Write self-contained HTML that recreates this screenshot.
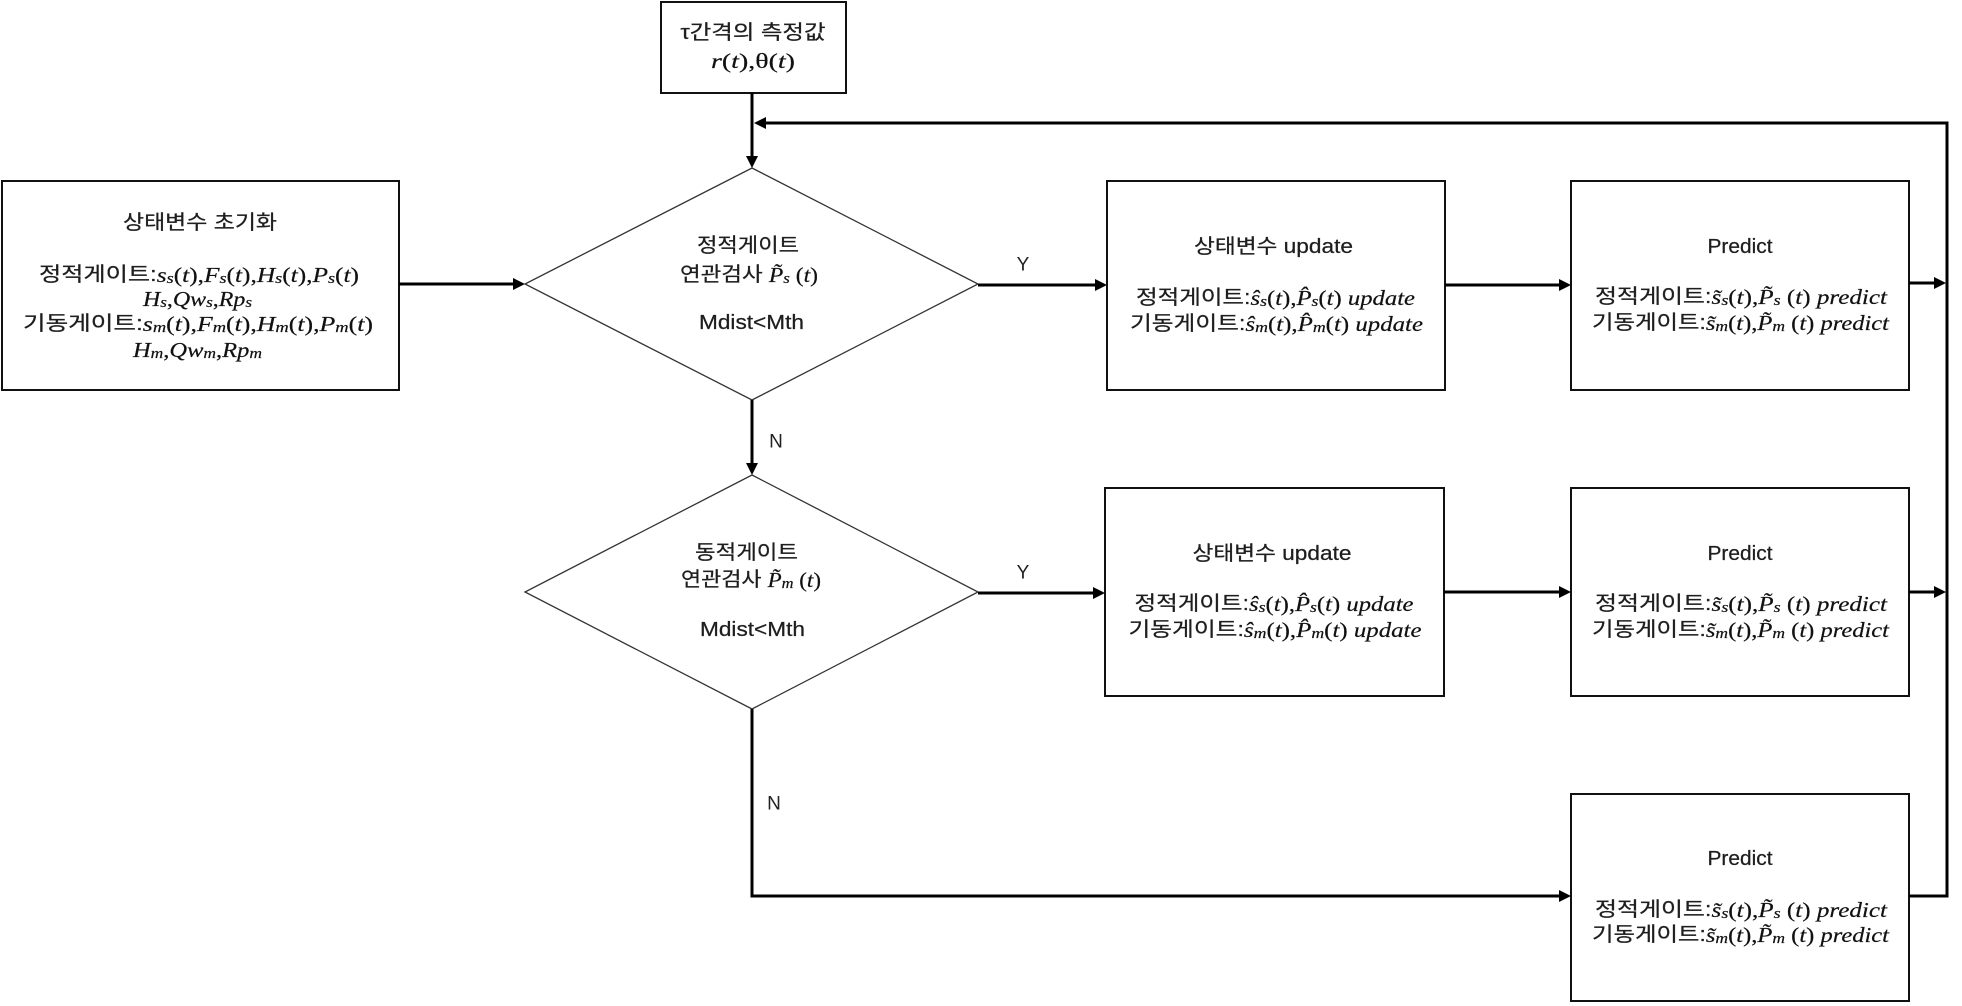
<!DOCTYPE html>
<html><head><meta charset="utf-8"><style>
html,body{margin:0;padding:0;background:#fff;}
svg{display:block;}
.k{font-family:"Liberation Sans","Noto Sans CJK KR",sans-serif;font-size:20px;fill:#1e1e1e;stroke:#1e1e1e;stroke-width:0.25px;}
.m{font-family:"Liberation Serif","DejaVu Serif",serif;font-style:italic;fill:#111;stroke:#111;stroke-width:0.2px;font-size:21px;}
.r{font-family:"Liberation Serif","DejaVu Serif",serif;font-style:normal;fill:#111;stroke:#111;stroke-width:0.2px;font-size:21px;}
.sb{font-size:15px;}
.lbl{font-family:"Liberation Sans",sans-serif;font-size:19px;fill:#222;}
</style></head><body>
<svg width="1962" height="1006" viewBox="0 0 1962 1006" xmlns="http://www.w3.org/2000/svg">
<rect width="1962" height="1006" fill="#fff"/>
<!-- boxes -->
<g fill="none" stroke="#111" stroke-width="2">
<rect x="661" y="2" width="185" height="91"/>
<rect x="2" y="181" width="397" height="209"/>
<rect x="1107" y="181" width="338" height="209"/>
<rect x="1571" y="181" width="338" height="209"/>
<rect x="1105" y="488" width="339" height="208"/>
<rect x="1571" y="488" width="338" height="208"/>
<rect x="1571" y="794" width="338" height="207"/>
</g>
<!-- diamonds -->
<g fill="none" stroke="#333" stroke-width="1.3">
<polygon points="752,168 978,284 752,400 525,284"/>
<polygon points="752,475 978,592 752,709 525,592"/>
</g>
<!-- connectors -->
<g fill="none" stroke="#000" stroke-width="3">
<path d="M752,93 V160"/>
<path d="M1947,123 H762"/>
<path d="M1947,121.5 V897.5"/>
<path d="M399,284 H516"/>
<path d="M978,285 H1098"/>
<path d="M1445,285 H1562"/>
<path d="M1909,283 H1937"/>
<path d="M752,400 V466"/>
<path d="M978,593 H1096"/>
<path d="M1444,592 H1562"/>
<path d="M1909,592 H1937"/>
<path d="M752,709 V896 H1562"/>
<path d="M1909,896 H1947"/>
</g>
<!-- arrowheads -->
<g fill="#000">
<polygon points="746,156 752,168 758,156"/>
<polygon points="766,117 754,123 766,129"/>
<polygon points="513,278 525,284 513,290"/>
<polygon points="1095,279 1107,285 1095,291"/>
<polygon points="1559,279 1571,285 1559,291"/>
<polygon points="1934,277 1946,283 1934,289"/>
<polygon points="746,463 752,475 758,463"/>
<polygon points="1093,587 1105,593 1093,599"/>
<polygon points="1559,586 1571,592 1559,598"/>
<polygon points="1934,586 1946,592 1934,598"/>
<polygon points="1559,890 1571,896 1559,902"/>
</g>
<!-- labels -->
<text class="lbl" x="1023" y="265" text-anchor="middle" dominant-baseline="central">Y</text>
<text class="lbl" x="1023" y="573" text-anchor="middle" dominant-baseline="central">Y</text>
<text class="lbl" x="776" y="442" text-anchor="middle" dominant-baseline="central">N</text>
<text class="lbl" x="774" y="804" text-anchor="middle" dominant-baseline="central">N</text>

<!-- top box -->
<text class="k" x="753" y="33" text-anchor="middle" dominant-baseline="central" textLength="145" lengthAdjust="spacingAndGlyphs">τ간격의 측정값</text>
<text class="k" x="753" y="61" text-anchor="middle" dominant-baseline="central" textLength="84" lengthAdjust="spacingAndGlyphs"><tspan class="m">r</tspan><tspan class="r">(</tspan><tspan class="m">t</tspan><tspan class="r">),θ(</tspan><tspan class="m">t</tspan><tspan class="r">)</tspan></text>

<!-- left box -->
<text class="k" x="200" y="223" text-anchor="middle" dominant-baseline="central" textLength="154" lengthAdjust="spacingAndGlyphs">상태변수 초기화</text>
<text class="k" x="199" y="275" text-anchor="middle" dominant-baseline="central" textLength="320" lengthAdjust="spacingAndGlyphs">정적게이트:<tspan class="m">s</tspan><tspan class="m sb" dy="4">s</tspan><tspan class="r" dy="-4">(</tspan><tspan class="m">t</tspan><tspan class="r">),</tspan><tspan class="m">F</tspan><tspan class="m sb" dy="4">s</tspan><tspan class="r" dy="-4">(</tspan><tspan class="m">t</tspan><tspan class="r">),</tspan><tspan class="m">H</tspan><tspan class="m sb" dy="4">s</tspan><tspan class="r" dy="-4">(</tspan><tspan class="m">t</tspan><tspan class="r">),</tspan><tspan class="m">P</tspan><tspan class="m sb" dy="4">s</tspan><tspan class="r" dy="-4">(</tspan><tspan class="m">t</tspan><tspan class="r">)</tspan></text>
<text class="k" x="197.5" y="299" text-anchor="middle" dominant-baseline="central" textLength="109" lengthAdjust="spacingAndGlyphs"><tspan class="m">H</tspan><tspan class="m sb" dy="4">s</tspan><tspan class="r" dy="-4">,</tspan><tspan class="m">Qw</tspan><tspan class="m sb" dy="4">s</tspan><tspan class="r" dy="-4">,</tspan><tspan class="m">Rp</tspan><tspan class="m sb" dy="4">s</tspan></text>
<text class="k" x="198" y="324" text-anchor="middle" dominant-baseline="central" textLength="350" lengthAdjust="spacingAndGlyphs">기동게이트:<tspan class="m">s</tspan><tspan class="m sb" dy="4">m</tspan><tspan class="r" dy="-4">(</tspan><tspan class="m">t</tspan><tspan class="r">),</tspan><tspan class="m">F</tspan><tspan class="m sb" dy="4">m</tspan><tspan class="r" dy="-4">(</tspan><tspan class="m">t</tspan><tspan class="r">),</tspan><tspan class="m">H</tspan><tspan class="m sb" dy="4">m</tspan><tspan class="r" dy="-4">(</tspan><tspan class="m">t</tspan><tspan class="r">),</tspan><tspan class="m">P</tspan><tspan class="m sb" dy="4">m</tspan><tspan class="r" dy="-4">(</tspan><tspan class="m">t</tspan><tspan class="r">)</tspan></text>
<text class="k" x="197.5" y="350" text-anchor="middle" dominant-baseline="central" textLength="129" lengthAdjust="spacingAndGlyphs"><tspan class="m">H</tspan><tspan class="m sb" dy="4">m</tspan><tspan class="r" dy="-4">,</tspan><tspan class="m">Qw</tspan><tspan class="m sb" dy="4">m</tspan><tspan class="r" dy="-4">,</tspan><tspan class="m">Rp</tspan><tspan class="m sb" dy="4">m</tspan></text>

<!-- diamond 1 -->
<text class="k" x="748" y="246" text-anchor="middle" dominant-baseline="central" textLength="102" lengthAdjust="spacingAndGlyphs">정적게이트</text>
<text class="k" x="749" y="275" text-anchor="middle" dominant-baseline="central" textLength="138" lengthAdjust="spacingAndGlyphs">연관검사 <tspan class="m">P̃</tspan><tspan class="m sb" dy="4">s</tspan><tspan class="r" dy="-4"> (</tspan><tspan class="m">t</tspan><tspan class="r">)</tspan></text>
<text class="k" x="751.5" y="323" text-anchor="middle" dominant-baseline="central" textLength="105" lengthAdjust="spacingAndGlyphs">Mdist&lt;Mth</text>

<!-- diamond 2 -->
<text class="k" x="746.5" y="553" text-anchor="middle" dominant-baseline="central" textLength="103" lengthAdjust="spacingAndGlyphs">동적게이트</text>
<text class="k" x="751" y="580" text-anchor="middle" dominant-baseline="central" textLength="140" lengthAdjust="spacingAndGlyphs">연관검사 <tspan class="m">P̃</tspan><tspan class="m sb" dy="4">m</tspan><tspan class="r" dy="-4"> (</tspan><tspan class="m">t</tspan><tspan class="r">)</tspan></text>
<text class="k" x="752.5" y="630" text-anchor="middle" dominant-baseline="central" textLength="105" lengthAdjust="spacingAndGlyphs">Mdist&lt;Mth</text>

<!-- update box 1 -->
<text class="k" x="1273.5" y="247" text-anchor="middle" dominant-baseline="central" textLength="159" lengthAdjust="spacingAndGlyphs">상태변수 update</text>
<text class="k" x="1275.5" y="298" text-anchor="middle" dominant-baseline="central" textLength="279" lengthAdjust="spacingAndGlyphs">정적게이트:<tspan class="m">ŝ</tspan><tspan class="m sb" dy="4">s</tspan><tspan class="r" dy="-4">(</tspan><tspan class="m">t</tspan><tspan class="r">),</tspan><tspan class="m">P̂</tspan><tspan class="m sb" dy="4">s</tspan><tspan class="r" dy="-4">(</tspan><tspan class="m">t</tspan><tspan class="r">) </tspan><tspan class="m">update</tspan></text>
<text class="k" x="1276.5" y="324" text-anchor="middle" dominant-baseline="central" textLength="293" lengthAdjust="spacingAndGlyphs">기동게이트:<tspan class="m">ŝ</tspan><tspan class="m sb" dy="4">m</tspan><tspan class="r" dy="-4">(</tspan><tspan class="m">t</tspan><tspan class="r">),</tspan><tspan class="m">P̂</tspan><tspan class="m sb" dy="4">m</tspan><tspan class="r" dy="-4">(</tspan><tspan class="m">t</tspan><tspan class="r">) </tspan><tspan class="m">update</tspan></text>

<!-- update box 2 -->
<text class="k" x="1272" y="554" text-anchor="middle" dominant-baseline="central" textLength="159" lengthAdjust="spacingAndGlyphs">상태변수 update</text>
<text class="k" x="1274" y="604" text-anchor="middle" dominant-baseline="central" textLength="279" lengthAdjust="spacingAndGlyphs">정적게이트:<tspan class="m">ŝ</tspan><tspan class="m sb" dy="4">s</tspan><tspan class="r" dy="-4">(</tspan><tspan class="m">t</tspan><tspan class="r">),</tspan><tspan class="m">P̂</tspan><tspan class="m sb" dy="4">s</tspan><tspan class="r" dy="-4">(</tspan><tspan class="m">t</tspan><tspan class="r">) </tspan><tspan class="m">update</tspan></text>
<text class="k" x="1275" y="630" text-anchor="middle" dominant-baseline="central" textLength="293" lengthAdjust="spacingAndGlyphs">기동게이트:<tspan class="m">ŝ</tspan><tspan class="m sb" dy="4">m</tspan><tspan class="r" dy="-4">(</tspan><tspan class="m">t</tspan><tspan class="r">),</tspan><tspan class="m">P̂</tspan><tspan class="m sb" dy="4">m</tspan><tspan class="r" dy="-4">(</tspan><tspan class="m">t</tspan><tspan class="r">) </tspan><tspan class="m">update</tspan></text>

<!-- predict boxes -->
<g>
<text class="k" x="1740" y="247" text-anchor="middle" dominant-baseline="central" textLength="65" lengthAdjust="spacingAndGlyphs">Predict</text>
<text class="k" x="1741" y="297" text-anchor="middle" dominant-baseline="central" textLength="292" lengthAdjust="spacingAndGlyphs">정적게이트:<tspan class="m">s̃</tspan><tspan class="m sb" dy="4">s</tspan><tspan class="r" dy="-4">(</tspan><tspan class="m">t</tspan><tspan class="r">),</tspan><tspan class="m">P̃</tspan><tspan class="m sb" dy="4">s</tspan><tspan class="r" dy="-4"> (</tspan><tspan class="m">t</tspan><tspan class="r">) </tspan><tspan class="m">predict</tspan></text>
<text class="k" x="1740.5" y="323" text-anchor="middle" dominant-baseline="central" textLength="297" lengthAdjust="spacingAndGlyphs">기동게이트:<tspan class="m">s̃</tspan><tspan class="m sb" dy="4">m</tspan><tspan class="r" dy="-4">(</tspan><tspan class="m">t</tspan><tspan class="r">),</tspan><tspan class="m">P̃</tspan><tspan class="m sb" dy="4">m</tspan><tspan class="r" dy="-4"> (</tspan><tspan class="m">t</tspan><tspan class="r">) </tspan><tspan class="m">predict</tspan></text>
</g>
<g>
<text class="k" x="1740" y="554" text-anchor="middle" dominant-baseline="central" textLength="65" lengthAdjust="spacingAndGlyphs">Predict</text>
<text class="k" x="1741" y="604" text-anchor="middle" dominant-baseline="central" textLength="292" lengthAdjust="spacingAndGlyphs">정적게이트:<tspan class="m">s̃</tspan><tspan class="m sb" dy="4">s</tspan><tspan class="r" dy="-4">(</tspan><tspan class="m">t</tspan><tspan class="r">),</tspan><tspan class="m">P̃</tspan><tspan class="m sb" dy="4">s</tspan><tspan class="r" dy="-4"> (</tspan><tspan class="m">t</tspan><tspan class="r">) </tspan><tspan class="m">predict</tspan></text>
<text class="k" x="1740.5" y="630" text-anchor="middle" dominant-baseline="central" textLength="297" lengthAdjust="spacingAndGlyphs">기동게이트:<tspan class="m">s̃</tspan><tspan class="m sb" dy="4">m</tspan><tspan class="r" dy="-4">(</tspan><tspan class="m">t</tspan><tspan class="r">),</tspan><tspan class="m">P̃</tspan><tspan class="m sb" dy="4">m</tspan><tspan class="r" dy="-4"> (</tspan><tspan class="m">t</tspan><tspan class="r">) </tspan><tspan class="m">predict</tspan></text>
</g>
<g>
<text class="k" x="1740" y="859" text-anchor="middle" dominant-baseline="central" textLength="65" lengthAdjust="spacingAndGlyphs">Predict</text>
<text class="k" x="1741" y="910" text-anchor="middle" dominant-baseline="central" textLength="292" lengthAdjust="spacingAndGlyphs">정적게이트:<tspan class="m">s̃</tspan><tspan class="m sb" dy="4">s</tspan><tspan class="r" dy="-4">(</tspan><tspan class="m">t</tspan><tspan class="r">),</tspan><tspan class="m">P̃</tspan><tspan class="m sb" dy="4">s</tspan><tspan class="r" dy="-4"> (</tspan><tspan class="m">t</tspan><tspan class="r">) </tspan><tspan class="m">predict</tspan></text>
<text class="k" x="1740.5" y="935" text-anchor="middle" dominant-baseline="central" textLength="297" lengthAdjust="spacingAndGlyphs">기동게이트:<tspan class="m">s̃</tspan><tspan class="m sb" dy="4">m</tspan><tspan class="r" dy="-4">(</tspan><tspan class="m">t</tspan><tspan class="r">),</tspan><tspan class="m">P̃</tspan><tspan class="m sb" dy="4">m</tspan><tspan class="r" dy="-4"> (</tspan><tspan class="m">t</tspan><tspan class="r">) </tspan><tspan class="m">predict</tspan></text>
</g>
</svg>
</body></html>
